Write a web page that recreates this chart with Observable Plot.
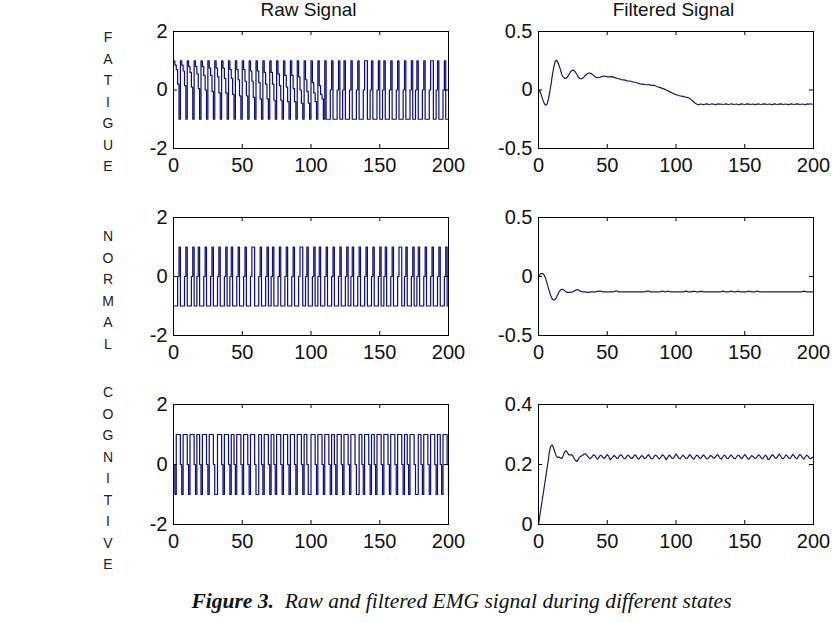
<!DOCTYPE html>
<html>
<head>
<meta charset="utf-8">
<script src="https://cdn.jsdelivr.net/npm/d3@7"></script>
<script src="https://cdn.jsdelivr.net/npm/@observablehq/plot@0.6"></script>
<style>
  body { margin: 0; background: #fff; }
  #fig { position: relative; width: 833px; height: 623px; overflow: hidden; background: #fff; font-family: "Liberation Sans", Arial, sans-serif; }
  #plots { position: absolute; left: 0; top: 0; width: 833px; height: 580px; }
  .panel { position: absolute; }
  .title { position: absolute; width: 300px; text-align: center; font-size: 19px; line-height: 19px; color: #111; white-space: nowrap; }
  .rowlabel { position: absolute; width: 20px; text-align: center; font-size: 14px; line-height: 21.5px; color: #222; }
  #caption { position: absolute; left: 0; width: 923px; text-align: center; top: 591px; font-family: "Liberation Serif", "Times New Roman", serif; font-style: italic; font-size: 21.5px; line-height: 21.5px; color: #111; white-space: pre; }
</style>
</head>
<body>
<div id="fig">
  <div id="plots"></div>
  <div id="caption"><b>Figure 3.</b>  Raw and filtered EMG signal during different states</div>
</div>
<script>
// ---------- data ----------
const columnTitles = ["Raw Signal", "Filtered Signal"];
const states = ["FATIGUE", "NORMAL", "COGNITIVE"];
const xTicks = [0, 50, 100, 150, 200];
const rawYTicks = [-2, 0, 2];
const filtYTicksA = [-0.5, 0, 0.5];
const filtYTicksB = [0, 0.2, 0.4];

// raw signals, one value per sample 0..200 (drawn as steps)
const fatigueRaw = [
  1,0.85,0.7,0.2,-1, 1,0.85,0.65,0.15,-1, 1,0.8,0.6,0.1,-1, 1,0.8,0.55,0.05,-1,
  1,0.8,0.5,0,-1, 1,0.75,0.5,-0.05,-1, 1,0.75,0.45,-0.1,-1, 1,0.75,0.4,-0.1,-1,
  1,0.7,0.4,-0.15,-1, 1,0.7,0.35,-0.2,-1, 1,0.7,0.3,-0.2,-1, 1,0.65,0.3,-0.25,-1,
  1,0.65,0.25,-0.3,-1, 1,0.6,0.2,-0.3,-1, 1,0.6,0.2,-0.35,-1, 1,0.55,0.15,-0.35,-1,
  1,0.5,0.1,-0.4,-1, 1,0.5,0.05,-0.4,-1, 1,0.45,0,-0.45,-1, 1,0.35,-0.05,-0.45,-1,
  1,0.25,-0.1,-0.4,-1, 1,0.15,-0.15,-0.3,-1,
  1,-1,-1,-1,0, 1,-1,-1,-1,0, 1,-1,-1,0, 1,-1,-1,-1,0, 1,-1,-1,-1,0, 1,-1,-1,-1,0,
  1,1,-1,-1,0, 1,-1,-1,-1,0, 1,-1,-1,0, 1,-1,-1,-1,0, 1,-1,-1,-1,0, 1,-1,-1,-1,0,
  1,-1,-1,-1,0, 1,-1,-1,0, 1,-1,-1,-1,0, 1,-1,-1,-1,0, 1,1,-1,-1,0, 1,-1,-1,-1,0,
  1,-1,-1,-1
];
const normalRaw = [
  -1,-1,-1,0,
  1,-1,-1,-1,0, 1,-1,-1,-1,0, 1,-1,-1,0, 1,-1,-1,-1,0, 1,-1,-1,-1,0, 1,-1,-1,-1,0,
  1,-1,-1,-1,0, 1,-1,-1,0, 1,-1,-1,-1,0, 1,-1,-1,-1,0, 1,-1,-1,-1,0, 1,1,-1,-1,-1,0,
  1,-1,-1,-1,0, 1,-1,-1,0, 1,-1,-1,-1,0, 1,-1,-1,-1,0, 1,-1,-1,-1,0, 1,-1,-1,-1,0,
  1,1,-1,-1,0, 1,-1,-1,-1,0, 1,-1,-1,0, 1,-1,-1,-1,0, 1,-1,-1,-1,0, 1,-1,-1,-1,0,
  1,-1,-1,-1,0, 1,-1,-1,0, 1,-1,-1,-1,0, 1,-1,-1,-1,0, 1,-1,-1,-1,0, 1,-1,-1,-1,0,
  1,-1,-1,0, 1,-1,-1,-1,0, 1,-1,-1,-1,0, 1,1,-1,-1,0, 1,-1,-1,-1,0, 1,-1,-1,0,
  1,-1,-1,-1,0, 1,-1,-1,-1,0, 1,-1,-1,-1,0, 1,-1,-1,-1,0, 1,-1,-1
];
const cognitiveRaw = [
  0,-1,1,1,1,0, -1,1,1,1,0, -1,1,1,1,0, -1,1,1,0, -1,1,1,1,0, -1,1,1,1,0,
  -1,-1,1,1,1,0, -1,1,1,1,0, -1,1,1,0, -1,1,1,1,0, -1,1,1,1,0, -1,1,1,1,0,
  -1,-1,1,1,0, -1,1,1,1,0, -1,1,1,0, -1,1,1,1,0, -1,1,1,1,0, -1,1,1,1,0,
  -1,1,1,1,0, -1,1,1,0, -1,-1,1,1,1,0, -1,1,1,1,0, -1,1,1,1,0, -1,1,1,0,
  -1,1,1,1,0, -1,1,1,1,0, -1,1,1,1,0, -1,-1,1,1,0, -1,1,1,1,0, -1,1,1,0,
  -1,1,1,1,0, -1,1,1,1,0, -1,1,1,1,0, -1,1,1,1,0, -1,1,1,0, -1,1,1,1,0,
  -1,-1,1,1,0, -1,1,1,1,0, -1,1,1,1,0, -1,1,1,0, -1,1,1,1,0, -1
];

// filtered signals, one value per sample 0..200
const fatigueFiltered = [
  0,-0.01,-0.04,-0.08,-0.11,-0.13,-0.125,-0.09,-0.03,0.04,
  0.12,0.19,0.24,0.255,0.24,0.21,0.17,0.13,0.11,0.1,
  0.1,0.11,0.13,0.15,0.165,0.17,0.165,0.15,0.13,0.11,
  0.1,0.097,0.1,0.11,0.125,0.135,0.143,0.145,0.142,0.135,
  0.125,0.115,0.108,0.105,0.107,0.11,0.115,0.118,0.118,0.116,
  0.113,0.112,0.113,0.114,0.112,0.108,0.104,0.1,0.097,0.095,
  0.09,0.087,0.086,0.084,0.08,0.078,0.077,0.075,0.072,0.068,
  0.066,0.064,0.06,0.055,0.052,0.05,0.05,0.048,0.045,0.045,
  0.046,0.044,0.04,0.04,0.041,0.036,0.03,0.026,0.022,0.018,
  0.014,0.01,0.005,0,-0.006,-0.012,-0.018,-0.024,-0.03,-0.035,
  -0.04,-0.043,-0.047,-0.05,-0.052,-0.055,-0.058,-0.061,-0.063,-0.066,
  -0.072,-0.082,-0.092,-0.103,-0.113,-0.12,-0.125,-0.123,
  -0.12,-0.122,-0.125,-0.122,-0.119, -0.121,-0.124,-0.122,-0.118,-0.12,
  -0.123,-0.125,-0.121,-0.119,-0.122, -0.12,-0.124,-0.122,-0.119,-0.121,
  -0.124,-0.122,-0.118,-0.121,-0.124, -0.122,-0.12,-0.123,-0.125,-0.121,
  -0.119,-0.122,-0.124,-0.121,-0.118, -0.121,-0.124,-0.122,-0.12,-0.123,
  -0.125,-0.121,-0.119,-0.122,-0.124, -0.121,-0.118,-0.121,-0.124,-0.122,
  -0.12,-0.123,-0.125,-0.121,-0.119, -0.122,-0.124,-0.121,-0.118,-0.121,
  -0.124,-0.122,-0.12,-0.123,-0.125, -0.121,-0.119,-0.122,-0.124,-0.121,
  -0.118,-0.121,-0.124,-0.122,-0.12, -0.123,-0.125,-0.121,-0.119,-0.122,
  -0.118,-0.122,-0.121
];
const normalFiltered = [
  0,0.015,0.025,0.025,0.015,-0.01,-0.05,-0.09,-0.13,-0.165,
  -0.19,-0.2,-0.195,-0.18,-0.155,-0.13,-0.115,-0.108,-0.11,-0.12,
  -0.13,-0.135,-0.135,-0.135,-0.133,-0.13,-0.124,-0.116,-0.112,-0.114,
  -0.12,-0.126,-0.13,-0.131,-0.13,-0.132,-0.134,-0.132,-0.13,-0.13,
  -0.131,-0.13,-0.128,-0.126,-0.124,-0.124,-0.127,-0.13,-0.13,-0.13,
  -0.13,-0.13,-0.13,-0.13,-0.13,-0.128,-0.124,-0.124,-0.13,-0.13,
  -0.13,-0.13,-0.13,-0.13,-0.13,-0.13,-0.13,-0.13,-0.13,-0.13,
  -0.13,-0.13,-0.13,-0.13,-0.13,-0.13,-0.13,-0.13,-0.128,-0.124,
  -0.124,-0.13,-0.13,-0.13,-0.13,-0.13,-0.13,-0.13,-0.13,-0.128,
  -0.124,-0.127,-0.13,-0.128,-0.124,-0.127,-0.13,-0.13,-0.13,-0.13,
  -0.13,-0.13,-0.13,-0.13,-0.13,-0.13,-0.128,-0.124,-0.126,-0.13,
  -0.13,-0.13,-0.128,-0.124,-0.127,-0.13,-0.13,-0.128,-0.124,-0.127,
  -0.13,-0.13,-0.13,-0.13,-0.13,-0.13,-0.13,-0.13,-0.13,-0.13,
  -0.13,-0.13,-0.13,-0.128,-0.124,-0.127,-0.13,-0.13,-0.13,-0.128,
  -0.124,-0.127,-0.13,-0.13,-0.128,-0.124,-0.127,-0.13,-0.13,-0.13,
  -0.13,-0.13,-0.128,-0.124,-0.127,-0.13,-0.13,-0.13,-0.128,-0.124,
  -0.127,-0.13,-0.13,-0.13,-0.13,-0.13,-0.13,-0.13,-0.13,-0.13,
  -0.13,-0.13,-0.13,-0.13,-0.13,-0.13,-0.13,-0.13,-0.13,-0.13,
  -0.13,-0.13,-0.13,-0.13,-0.13,-0.13,-0.13,-0.13,-0.13,-0.13,
  -0.13,-0.13,-0.128,-0.124,-0.127,-0.13,-0.13,-0.13,-0.13,-0.13,
  -0.13
];
const cognitiveFiltered = [
  0,0.03,0.06,0.09,0.12,0.15,0.18,0.21,0.245,0.262,
  0.265,0.255,0.24,0.228,0.223,0.225,0.222,0.22,0.23,0.242,
  0.246,0.24,0.232,0.232,0.233,0.228,0.22,0.213,0.21,0.218,
  0.225,0.228,0.23,0.234,0.236,0.232,0.226,0.22,
  0.221,0.226,0.232,0.23,0.222, 0.218,0.224,0.231,0.229,0.223,
  0.22,0.227,0.233,0.228,0.216, 0.219,0.225,0.23,0.226,0.22,
  0.222,0.229,0.233,0.227,0.221, 0.219,0.226,0.231,0.228,0.222,
  0.22,0.225,0.232,0.229,0.221, 0.218,0.224,0.23,0.227,0.22,
  0.221,0.228,0.233,0.226,0.219, 0.22,0.226,0.231,0.229,0.222,
  0.219,0.225,0.232,0.23,0.223, 0.216,0.224,0.231,0.228,0.221,
  0.22,0.227,0.235,0.229,0.222, 0.219,0.225,0.231,0.227,0.221,
  0.22,0.226,0.233,0.228,0.221, 0.218,0.225,0.231,0.229,0.222,
  0.22,0.226,0.232,0.227,0.22, 0.219,0.224,0.23,0.228,0.222,
  0.221,0.227,0.233,0.229,0.221, 0.218,0.225,0.231,0.228,0.22,
  0.22,0.226,0.232,0.227,0.221, 0.219,0.225,0.231,0.229,0.222,
  0.22,0.227,0.233,0.228,0.22, 0.218,0.224,0.23,0.227,0.221,
  0.22,0.226,0.232,0.229,0.222, 0.219,0.225,0.231,0.227,0.216,
  0.219,0.226,0.233,0.229,0.222, 0.22,0.228,0.235,0.229,0.221,
  0.219,0.225,0.232,0.228,0.221, 0.22,0.227,0.234,0.229,0.222,
  0.219,0.226,0.233,0.23,0.222, 0.218,0.225,0.231,0.228,0.221,
  0.219,0.224,0.222
];

// ---------- layout ----------
const rawColor = "#0c0c86";
const filtColor = "#1a1a58";
const PW = 275;                 // frame width
const rowsTop = [31, 217, 404];
const rowsH = [117, 118, 120];
const rawLeft = 173, filtLeft = 538;
const ML = 60, MR = 14, MT = 10, MB = 36;

const fmt = d => String(d);

function panel(values, yDomain, yTicks, stroke, strokeWidth, curve, left, top, h) {
  const data = values.map((v, i) => ({x: i, y: v}));
  const svg = Plot.plot({
    width: ML + PW + MR, height: MT + h + MB,
    marginLeft: ML, marginRight: MR, marginTop: MT, marginBottom: MB,
    style: {fontFamily: "'Liberation Sans', Arial, sans-serif", fontSize: "20px", color: "#111", background: "transparent", overflow: "visible"},
    x: {domain: [0, 200], label: null},
    y: {domain: yDomain, label: null},
    marks: [
      Plot.line(data, {x: "x", y: "y", stroke, strokeWidth, curve}),
      Plot.axisX(xTicks, {tickSize: 0, tickPadding: 9, tickFormat: fmt, label: null}),
      Plot.axisY(yTicks, {tickSize: 0, tickPadding: 6, tickFormat: fmt, label: null}),
      Plot.tickX(xTicks, {x: d => d, insetTop: h - 4, stroke: "#000"}),
      Plot.tickX(xTicks, {x: d => d, insetBottom: h - 4, stroke: "#000"}),
      Plot.tickY(yTicks, {y: d => d, insetRight: PW - 4, stroke: "#000"}),
      Plot.tickY(yTicks, {y: d => d, insetLeft: PW - 4, stroke: "#000"}),
      Plot.frame({stroke: "#000", strokeWidth: 1})
    ]
  });
  svg.classList.add("panel");
  svg.style.left = (left - ML) + "px";
  svg.style.top = (top - MT) + "px";
  document.getElementById("plots").appendChild(svg);
}

const raws = [fatigueRaw, normalRaw, cognitiveRaw];
const filts = [fatigueFiltered, normalFiltered, cognitiveFiltered];
const filtDomains = [[-0.5, 0.5], [-0.5, 0.5], [0, 0.4]];
const filtTicks = [filtYTicksA, filtYTicksA, filtYTicksB];

for (let r = 0; r < 3; r++) {
  panel(raws[r], [-2, 2], rawYTicks, rawColor, 1.2, "step-after", rawLeft, rowsTop[r], rowsH[r]);
  panel(filts[r], filtDomains[r], filtTicks[r], filtColor, 1.2, "linear", filtLeft, rowsTop[r], rowsH[r]);
}

// column titles
const plots = document.getElementById("plots");
[rawLeft + PW / 2, filtLeft + PW / 2].forEach((cx, i) => {
  const t = document.createElement("div");
  t.className = "title";
  t.textContent = columnTitles[i];
  t.style.left = (cx - 150 - 2) + "px";
  t.style.top = "0px";
  plots.appendChild(t);
});

// vertical state labels
const labelTops = [27, 226, 382];
states.forEach((s, i) => {
  const d = document.createElement("div");
  d.className = "rowlabel";
  d.innerHTML = s.split("").join("<br>");
  d.style.left = "98px";
  d.style.top = labelTops[i] + "px";
  plots.appendChild(d);
});
</script>
</body>
</html>
